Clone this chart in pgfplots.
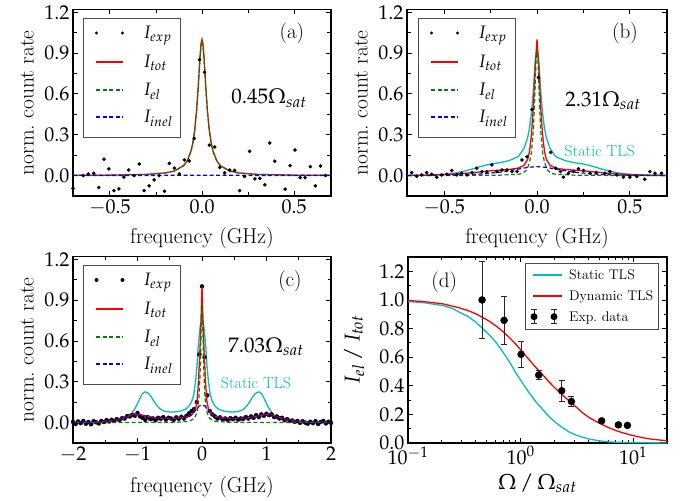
\documentclass[border=0pt]{standalone}
\usepackage{mathpazo}
\usepackage{pgfplots}
\pgfplotsset{compat=1.18}
\definecolor{mplred}{rgb}{1,0,0}
\definecolor{mplgreen}{rgb}{0,0.5,0}
\definecolor{mplblue}{rgb}{0,0,1}
\definecolor{mplcyan}{rgb}{0,0.75,0.75}
\newcommand{\labfont}{\fontsize{21.5}{26}\selectfont}
\newcommand{\legfont}{\fontsize{18}{20}\selectfont}
\tikzset{
  totst/.style={mplred, line width=1.3pt},
  elst/.style={mplgreen, line width=1.2pt, dash pattern=on 4pt off 2.5pt},
  inelst/.style={mplblue, line width=1.2pt, dash pattern=on 4pt off 2.5pt},
  tlsst/.style={mplcyan, line width=1.3pt},
}
\pgfplotsset{
  panel/.style={
    scale only axis,
    axis line style={line width=1.1pt},
    tick align=inside, xtick pos=both, ytick pos=both,
    major tick length=5pt, minor tick length=3.5pt,
    every tick/.style={black, line width=0.8pt},
    tick label style={font=\fontsize{20}{24}\selectfont},
    clip mode=individual,
  },
  spec/.style={
    panel,
    ymin=-0.15, ymax=1.22,
    ytick={0,0.3,0.6,0.9,1.2}, minor y tick num=1,
    yticklabel style={/pgf/number format/fixed, /pgf/number format/fixed zerofill, /pgf/number format/precision=1},
    ylabel={norm.\ count rate}, xlabel={frequency (GHz)},
    every axis y label/.style={at={(axis description cs:0,0.5)}, xshift=-46pt, rotate=90, anchor=center, font=\labfont},
    every axis x label/.style={at={(axis description cs:0.5,0)}, yshift=-42pt, anchor=center, font=\labfont},
  },
}
% legend box of a spectrum panel: #1 = left x, #2 = top y (pt), #3 = dot radius (pt)
\newcommand{\speclegend}[3]{%
  \draw[black!70, line width=0.7pt, fill=white] (#1pt,#2pt) rectangle (#1pt+97pt,#2pt-119pt);
  \fill[black] (#1pt+13.5pt,#2pt-15pt) circle (#3pt);
  \fill[black] (#1pt+39.5pt,#2pt-15pt) circle (#3pt);
  \draw[totst] (#1pt+13pt,#2pt-44pt) -- (#1pt+40pt,#2pt-44pt);
  \draw[elst] (#1pt+13pt,#2pt-72pt) -- (#1pt+40pt,#2pt-72pt);
  \draw[inelst] (#1pt+13pt,#2pt-99pt) -- (#1pt+40pt,#2pt-99pt);
  \node[anchor=base west, inner sep=0pt, font=\legfont] at (#1pt+60pt,#2pt-20.5pt) {$I_{exp}$};
  \node[anchor=base west, inner sep=0pt, font=\legfont] at (#1pt+60pt,#2pt-49.5pt) {$I_{tot}$};
  \node[anchor=base west, inner sep=0pt, font=\legfont] at (#1pt+60pt,#2pt-77.5pt) {$I_{el}$};
  \node[anchor=base west, inner sep=0pt, font=\legfont] at (#1pt+60pt,#2pt-104.5pt) {$I_{inel}$};
}
\begin{document}
\begin{tikzpicture}
\useasboundingbox (0,0) rectangle (684pt,500pt);
% ---------------- (a)
\begin{axis}[spec, at={(73pt,304pt)}, anchor=south west, width=258pt, height=186.5pt,
  xmin=-0.7, xmax=0.7, xtick={-0.5,0,0.5}, minor x tick num=1,
  xticklabel style={/pgf/number format/fixed, /pgf/number format/fixed zerofill, /pgf/number format/precision=1}]
\addplot[totst] coordinates {(-0.7,0.0016)(-0.5,0.0031)(-0.3,0.0086)(-0.2,0.0192)(-0.15,0.0337)(-0.1,0.0727)(-0.08,0.109)(-0.06,0.179)(-0.05,0.239)(-0.04,0.329)(-0.03,0.466)(-0.02,0.662)(-0.015,0.777)(-0.01,0.887)(-0.005,0.969)(0,1)(0.005,0.969)(0.01,0.887)(0.015,0.777)(0.02,0.662)(0.03,0.466)(0.04,0.329)(0.05,0.239)(0.06,0.179)(0.08,0.109)(0.1,0.0727)(0.15,0.0337)(0.2,0.0192)(0.3,0.0086)(0.5,0.0031)(0.7,0.0016)};
\addplot[elst] coordinates {(-0.7,0.0015)(-0.5,0.003)(-0.3,0.0083)(-0.2,0.0188)(-0.15,0.033)(-0.1,0.072)(-0.08,0.108)(-0.06,0.177)(-0.05,0.237)(-0.04,0.326)(-0.03,0.462)(-0.02,0.656)(-0.015,0.77)(-0.01,0.879)(-0.005,0.96)(0,0.99)(0.005,0.96)(0.01,0.879)(0.015,0.77)(0.02,0.656)(0.03,0.462)(0.04,0.326)(0.05,0.237)(0.06,0.177)(0.08,0.108)(0.1,0.072)(0.15,0.033)(0.2,0.0188)(0.3,0.0083)(0.5,0.003)(0.7,0.0015)};
\addplot[inelst] coordinates {(-0.7,0)(-0.3,0.001)(0,0.003)(0.3,0.001)(0.7,0)};
\addplot[only marks, mark=*, mark size=1.6pt, black] coordinates {
(-0.70,-0.093)(-0.644,0.0)(-0.617,0.012)(-0.587,0.017)(-0.56,-0.088)(-0.532,0.12)(-0.505,0.049)(-0.478,-0.11)(-0.451,-0.098)(-0.424,-0.012)(-0.397,0.041)(-0.368,0.0)(-0.341,0.085)(-0.314,-0.11)(-0.287,-0.076)(-0.26,-0.032)(-0.233,0.0)(-0.204,-0.115)(-0.177,0.09)(-0.15,0.054)(-0.123,0.012)(-0.096,0.115)(-0.069,0.107)(-0.042,0.273)(-0.014,0.851)(0.013,0.759)(0.04,0.224)(0.069,0.21)(0.096,0.059)(0.123,0.02)(0.15,0.041)(0.177,0.039)(0.204,-0.11)(0.231,-0.007)(0.258,0.178)(0.287,-0.024)(0.314,-0.02)(0.341,-0.068)(0.368,0.239)(0.395,0.105)(0.451,-0.1)(0.478,0.073)(0.505,0.188)(0.532,-0.015)(0.56,-0.015)(0.588,0.066)(0.615,-0.076)(0.643,0.071)(0.67,0.0)};
\node[font=\fontsize{21}{24}\selectfont] at (axis cs:0.488,1.044) {(a)};
\node[font=\fontsize{21}{24}\selectfont] at (axis cs:0.364,0.568) {$0.45\Omega_{sat}$};
\end{axis}
% ---------------- (b)
\begin{axis}[spec, at={(407pt,304pt)}, anchor=south west, width=260pt, height=186.5pt,
  xmin=-0.7, xmax=0.7, xtick={-0.5,0,0.5}, minor x tick num=1,
  xticklabel style={/pgf/number format/fixed, /pgf/number format/fixed zerofill, /pgf/number format/precision=1}]
\addplot[tlsst] coordinates {(-0.7,0.001)(-0.6,0.003)(-0.5,0.009)(-0.45,0.017)(-0.4,0.03)(-0.35,0.047)(-0.3,0.068)(-0.25,0.085)(-0.2,0.095)(-0.15,0.11)(-0.1,0.14)(-0.07,0.2)(-0.05,0.28)(-0.04,0.35)(-0.03,0.46)(-0.02,0.62)(-0.01,0.83)(0,0.93)(0.01,0.83)(0.02,0.62)(0.03,0.46)(0.04,0.35)(0.05,0.28)(0.07,0.2)(0.1,0.14)(0.15,0.11)(0.2,0.095)(0.25,0.085)(0.3,0.068)(0.35,0.047)(0.4,0.03)(0.45,0.017)(0.5,0.009)(0.6,0.003)(0.7,0.001)};
\addplot[totst] coordinates {(-0.7,0.001)(-0.6,0.003)(-0.5,0.007)(-0.4,0.015)(-0.3,0.028)(-0.25,0.035)(-0.2,0.04)(-0.15,0.045)(-0.1,0.055)(-0.07,0.075)(-0.05,0.12)(-0.04,0.18)(-0.03,0.30)(-0.02,0.50)(-0.01,0.80)(0,1.0)(0.01,0.80)(0.02,0.50)(0.03,0.30)(0.04,0.18)(0.05,0.12)(0.07,0.075)(0.1,0.055)(0.15,0.045)(0.2,0.04)(0.25,0.035)(0.3,0.028)(0.4,0.015)(0.5,0.007)(0.6,0.003)(0.7,0.001)};
\addplot[elst] coordinates {(-0.7,0)(-0.4,0.001)(-0.2,0.003)(-0.1,0.01)(-0.08,0.015)(-0.06,0.035)(-0.05,0.06)(-0.04,0.10)(-0.03,0.17)(-0.02,0.33)(-0.015,0.47)(-0.01,0.65)(-0.005,0.85)(0,0.93)(0.005,0.85)(0.01,0.65)(0.015,0.47)(0.02,0.33)(0.03,0.17)(0.04,0.10)(0.05,0.06)(0.06,0.035)(0.08,0.015)(0.1,0.01)(0.2,0.003)(0.4,0.001)(0.7,0)};
\addplot[inelst] coordinates {(-0.7,0)(-0.5,0.002)(-0.4,0.005)(-0.3,0.012)(-0.2,0.025)(-0.15,0.036)(-0.1,0.048)(-0.05,0.06)(0,0.066)(0.05,0.06)(0.1,0.048)(0.15,0.036)(0.2,0.025)(0.3,0.012)(0.4,0.005)(0.5,0.002)(0.7,0)};
\addplot[only marks, mark=*, mark size=1.6pt, black] coordinates {
(-0.675,0.022)(-0.648,-0.005)(-0.621,0.005)(-0.594,0.022)(-0.567,0.010)(-0.540,-0.012)(-0.513,0.005)(-0.486,0.010)(-0.459,0.037)(-0.432,0.005)(-0.405,0.017)(-0.378,0.005)(-0.351,0.022)(-0.324,0.054)(-0.297,0.029)(-0.270,0.027)(-0.243,0.078)(-0.216,0.029)(-0.189,0.041)(-0.162,0.041)(-0.135,0.030)(-0.108,0.030)(-0.081,0.115)(-0.054,0.139)(-0.027,0.486)(0.008,0.72)(0.073,0.17)(0.100,0.054)(0.127,0.03)(0.142,-0.012)(0.169,0.017)(0.196,0.03)(0.223,0.05)(0.25,0.037)(0.285,0.017)(0.32,0.022)(0.366,0.017)(0.393,0.029)(0.43,0.005)(0.465,-0.012)(0.50,-0.012)(0.537,-0.007)(0.58,-0.027)(0.608,0.029)(0.635,0.017)(0.67,0.017)};
\node[font=\fontsize{21}{24}\selectfont] at (axis cs:0.474,1.044) {(b)};
\node[font=\fontsize{21}{24}\selectfont] at (axis cs:0.355,0.553) {$2.31\Omega_{sat}$};
\node[font=\fontsize{16}{19}\selectfont, text=mplcyan] at (axis cs:0.337,0.183) {Static TLS};
\end{axis}
% ---------------- (c)
\begin{axis}[spec, at={(73pt,57pt)}, anchor=south west, width=258pt, height=186.5pt,
  xmin=-2, xmax=2, xtick={-2,-1,0,1,2}, minor x tick num=1,
  every axis x label/.style={at={(axis description cs:0.5,0)}, yshift=-44pt, anchor=center, font=\labfont}]
\addplot[tlsst] coordinates {(-1.08,0.075)(-1.05,0.095)(-1.02,0.12)(-0.99,0.15)(-0.96,0.18)(-0.93,0.208)(-0.89,0.225)(-0.855,0.222)(-0.82,0.21)(-0.785,0.188)(-0.75,0.16)(-0.7,0.125)(-0.65,0.10)(-0.6,0.087)(-0.55,0.08)(-0.45,0.077)(-0.35,0.083)(-0.3,0.09)(-0.25,0.10)(-0.2,0.122)(-0.16,0.155)(-0.13,0.2)(-0.1,0.3)(-0.08,0.4)(-0.06,0.55)(-0.045,0.63)(-0.03,0.7)(-0.015,0.745)(0,0.76)(0.015,0.745)(0.03,0.7)(0.045,0.63)(0.06,0.55)(0.08,0.4)(0.1,0.3)(0.13,0.2)(0.16,0.155)(0.2,0.122)(0.25,0.10)(0.3,0.09)(0.35,0.083)(0.45,0.077)(0.55,0.08)(0.6,0.087)(0.65,0.10)(0.7,0.125)(0.75,0.16)(0.785,0.188)(0.82,0.21)(0.855,0.222)(0.89,0.225)(0.93,0.208)(0.96,0.18)(0.99,0.15)(1.02,0.12)(1.05,0.095)(1.08,0.075)};
\addplot[only marks, mark=*, mark size=2pt, black] coordinates {
(-2.00,0.005)(-1.96,-0.010)(-1.92,0.008)(-1.88,-0.004)(-1.84,0.012)(-1.80,-0.008)(-1.76,0.004)(-1.72,-0.012)(-1.68,0.010)(-1.64,0.002)(-1.60,-0.006)(-1.56,0.012)(-1.52,0.004)(-1.48,0.018)(-1.44,0.008)(-1.40,0.020)(-1.36,0.012)(-1.32,0.025)(-1.28,0.018)(-1.24,0.032)(-1.20,0.030)(-1.16,0.048)(-1.12,0.045)(-1.08,0.058)(-1.04,0.050)(-1.00,0.070)(-0.96,0.045)(-0.92,0.035)(-0.88,0.020)(-0.84,0.040)(-0.80,0.025)(-0.76,0.030)(-0.72,0.018)(-0.68,0.035)(-0.64,0.028)(-0.60,0.040)(-0.56,0.022)(-0.52,0.035)(-0.48,0.030)(-0.44,0.020)(-0.40,0.038)(-0.36,0.028)(-0.32,0.042)(-0.28,0.030)(-0.24,0.050)(-0.20,0.068)(-0.16,0.085)(-0.12,0.100)(-0.08,0.150)(-0.04,0.500)(0.00,1.000)(0.04,0.480)(0.08,0.200)(0.12,0.085)(0.16,0.060)(0.20,0.045)(0.24,0.030)(0.28,0.038)(0.32,0.025)(0.36,0.030)(0.40,0.020)(0.44,0.032)(0.48,0.025)(0.52,0.035)(0.56,0.022)(0.60,0.030)(0.64,0.028)(0.68,0.040)(0.72,0.030)(0.76,0.045)(0.80,0.035)(0.84,0.055)(0.88,0.040)(0.92,0.060)(0.96,0.050)(1.00,0.065)(1.04,0.055)(1.08,0.060)(1.12,0.040)(1.16,0.045)(1.20,0.030)(1.24,0.035)(1.28,0.018)(1.32,0.025)(1.36,0.012)(1.40,0.015)(1.44,0.005)(1.48,0.012)(1.52,-0.002)(1.56,0.010)(1.60,0.000)(1.64,-0.008)(1.68,0.006)(1.72,-0.004)(1.76,0.010)(1.80,-0.010)(1.84,0.004)(1.88,0.012)(1.92,-0.006)(1.96,0.006)(2.00,-0.002)};
\addplot[totst] coordinates {(-2,0.001)(-1.7,0.003)(-1.5,0.008)(-1.3,0.02)(-1.15,0.045)(-1.05,0.062)(-0.95,0.058)(-0.85,0.045)(-0.7,0.033)(-0.5,0.03)(-0.3,0.035)(-0.2,0.045)(-0.15,0.06)(-0.1,0.1)(-0.075,0.16)(-0.055,0.3)(-0.035,0.5)(-0.02,0.68)(-0.01,0.85)(0,1.0)(0.01,0.85)(0.02,0.68)(0.035,0.5)(0.055,0.3)(0.075,0.16)(0.1,0.1)(0.15,0.06)(0.2,0.045)(0.3,0.035)(0.5,0.03)(0.7,0.033)(0.85,0.045)(0.95,0.058)(1.05,0.062)(1.15,0.045)(1.3,0.02)(1.5,0.008)(1.7,0.003)(2,0.001)};
\addplot[elst] coordinates {(-2,0)(-0.4,0.002)(-0.2,0.01)(-0.12,0.03)(-0.08,0.07)(-0.06,0.12)(-0.045,0.2)(-0.03,0.36)(-0.02,0.53)(-0.01,0.75)(0,0.87)(0.01,0.75)(0.02,0.53)(0.03,0.36)(0.045,0.2)(0.06,0.12)(0.08,0.07)(0.12,0.03)(0.2,0.01)(0.4,0.002)(2,0)};
\addplot[inelst] coordinates {(-2,0.001)(-1.5,0.008)(-1.3,0.02)(-1.15,0.043)(-1.05,0.058)(-0.95,0.055)(-0.85,0.045)(-0.7,0.032)(-0.5,0.027)(-0.3,0.03)(-0.2,0.045)(-0.15,0.06)(-0.1,0.09)(-0.05,0.12)(0,0.13)(0.05,0.12)(0.1,0.09)(0.15,0.06)(0.2,0.045)(0.3,0.03)(0.5,0.027)(0.7,0.032)(0.85,0.045)(0.95,0.055)(1.05,0.058)(1.15,0.043)(1.3,0.02)(1.5,0.008)(2,0.001)};
\node[font=\fontsize{21}{24}\selectfont] at (axis cs:1.364,1.037) {(c)};
\node[font=\fontsize{21}{24}\selectfont] at (axis cs:0.992,0.559) {$7.03\Omega_{sat}$};
\node[font=\fontsize{16}{19}\selectfont, text=mplcyan] at (axis cs:0.837,0.294) {Static TLS};
\end{axis}
% ---------------- (d)
\begin{axis}[panel, at={(408pt,57pt)}, anchor=south west, width=259pt, height=186pt,
  xmode=log, xmin=0.1, xmax=20, ymin=0, ymax=1.3,
  ytick={0,0.2,0.4,0.6,0.8,1.0,1.2}, minor y tick num=1,
  yticklabel style={/pgf/number format/fixed, /pgf/number format/fixed zerofill, /pgf/number format/precision=1},
  xtick={0.1,1,10}, xticklabels={$10^{-1}$,$10^{0}$,$10^{1}$},
  ylabel={$I_{el}\,/\,I_{tot}$}, xlabel={$\Omega\,/\,\Omega_{sat}$},
  every axis y label/.style={at={(axis description cs:0,0.5)}, xshift=-54pt, rotate=90, anchor=center, font=\labfont},
  every axis x label/.style={at={(axis description cs:0.5,0)}, yshift=-40pt, anchor=center, font=\labfont}]
\addplot[tlsst] coordinates {(0.1,0.989)(0.14,0.98)(0.203,0.961)(0.25,0.94)(0.285,0.915)(0.34,0.885)(0.40,0.845)(0.46,0.80)(0.53,0.753)(0.61,0.70)(0.695,0.637)(0.8,0.565)(0.914,0.486)(1.05,0.415)(1.2,0.347)(1.38,0.285)(1.58,0.232)(1.8,0.183)(2.08,0.139)(2.4,0.103)(2.74,0.074)(3.15,0.054)(3.6,0.039)(4.1,0.027)(4.7,0.019)(5.4,0.012)(6.2,0.007)(8,0.004)(10,0.002)(14,0.001)(20,0.0005)};
\addplot[totst] coordinates {(0.1,0.996)(0.14,0.988)(0.203,0.973)(0.285,0.945)(0.34,0.926)(0.40,0.903)(0.46,0.878)(0.53,0.85)(0.61,0.816)(0.695,0.78)(0.8,0.735)(0.914,0.688)(1.05,0.633)(1.2,0.579)(1.38,0.525)(1.58,0.475)(1.8,0.425)(2.08,0.375)(2.4,0.33)(2.74,0.29)(3.15,0.248)(3.6,0.208)(4.1,0.176)(4.7,0.15)(5.4,0.126)(6.2,0.104)(7.1,0.086)(8.2,0.07)(9.4,0.057)(10.8,0.046)(12.4,0.036)(14.2,0.028)(17,0.021)(20,0.016)};
\addplot[only marks, mark=*, mark size=3.5pt, black,
  error bars/.cd, y dir=both, y explicit,
  error bar style={line width=0.8pt, black!85},
  error mark options={rotate=90, mark size=3pt, line width=0.8pt, black!85}]
 coordinates {(0.455,1.0) +- (0,0.27) (0.714,0.857) +- (0,0.17) (1.01,0.62) +- (0,0.09) (1.45,0.475) +- (0,0.03) (2.32,0.365) +- (0,0.075) (2.83,0.29) +- (0,0.035) (5.25,0.155) +- (0,0.01) (7.4,0.127) +- (0,0.008) (8.9,0.123) +- (0,0.008)};
\node[font=\fontsize{21}{24}\selectfont] at (axis cs:0.21,1.123) {(d)};
\end{axis}
% ---------------- legends
\speclegend{83}{482}{1.6}
\speclegend{418}{482}{1.6}
\speclegend{83}{235}{2}
\draw[black!70, line width=0.7pt, fill=white] (525pt,237pt) rectangle (658pt,171pt);
\draw[tlsst] (533pt,225pt) -- (562pt,225pt);
\draw[totst] (533pt,204pt) -- (562pt,204pt);
\draw[line width=0.8pt, black!85] (534pt,176.3pt) -- (534pt,190.3pt) (531pt,176.3pt) -- (537pt,176.3pt) (531pt,190.3pt) -- (537pt,190.3pt);
\fill[black] (534pt,183.3pt) circle (3.5pt);
\draw[line width=0.8pt, black!85] (554pt,176.3pt) -- (554pt,190.3pt) (551pt,176.3pt) -- (557pt,176.3pt) (551pt,190.3pt) -- (557pt,190.3pt);
\fill[black] (554pt,183.3pt) circle (3.5pt);
\node[anchor=base west, inner sep=0pt, font=\fontsize{14}{16}\selectfont] at (569pt,220.5pt) {Static TLS};
\node[anchor=base west, inner sep=0pt, font=\fontsize{14}{16}\selectfont] at (569pt,199.5pt) {Dynamic TLS};
\node[anchor=base west, inner sep=0pt, font=\fontsize{14}{16}\selectfont] at (569pt,178.8pt) {Exp.\ data};
\end{tikzpicture}
\end{document}
